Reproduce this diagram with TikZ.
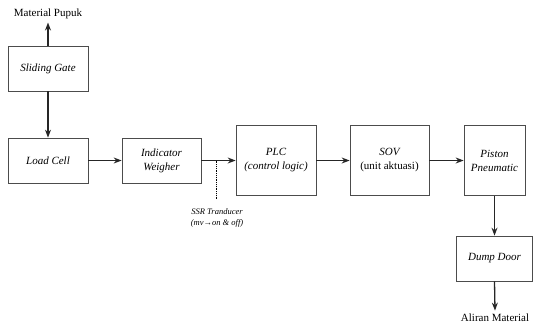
\documentclass[tikz,border=0pt]{standalone}
\usepackage{fontspec}
\setmainfont{Liberation Serif}
\usetikzlibrary{arrows.meta}

\begin{document}
\begin{tikzpicture}[x=1pt, y=-1pt,
    blok/.style={draw=black!70, line width=0.7pt, inner sep=2pt, align=center,
                 font=\fontsize{11}{14}\selectfont\itshape},
    alur/.style={-{Stealth[length=8pt, width=6pt]}, line width=1.3pt, black!85},
    ket/.style={font=\fontsize{11}{13}\selectfont}]

    \useasboundingbox (0,0) rectangle (533,327);

    \node (mat)  at ( 48, 14) [ket] {Material Pupuk};
    \node (gate) at ( 48, 68.5) [blok, minimum width=80pt, minimum height=45pt] {Sliding Gate};
    \node (cell) at ( 48, 160.5) [blok, minimum width=80pt, minimum height=45pt] {Load Cell};
    \node (wgh)  at ( 161.5, 160.5) [blok, minimum width=79pt, minimum height=45pt] {Indicator\\Weigher};
    \node (plc)  at ( 276, 160.5) [blok, minimum width=80pt, minimum height=70pt] {PLC\\(control logic)};
    \node (sov)  at ( 389.5, 160.5) [blok, minimum width=79pt, minimum height=70pt] {SOV\\\upshape(unit aktuasi)};
    \node (pis)  at ( 494.5, 160.5) [blok, minimum width=61pt, minimum height=70pt] {Piston\\Pneumatic};
    \node (dump) at ( 494.5, 258.5) [blok, minimum width=76pt, minimum height=45pt] {Dump Door};
    \node (alir) at ( 495, 318) [ket] {Aliran Material};

    \draw[alur] (gate.north) -- (mat.south);
    \draw[alur] (gate.south) -- (cell.north);
    \draw[alur] (cell) -- (wgh);
    \draw[alur] (wgh) -- (plc);
    \draw[alur] (plc) -- (sov);
    \draw[alur] (sov) -- (pis);
    \draw[alur] (pis.south) -- (dump.north);
    \draw[alur] (dump.south) -- (alir.north);

    % sinyal SSR
    \coordinate (tap) at ( 216, 160.5);
    \coordinate (tapend) at ( 216, 200);
    \draw[densely dotted, line width=0.8pt] (tap) -- (tapend);
    \node (ssr) at ( 217, 218) [align=center, font=\fontsize{8.5}{10.5}\selectfont\itshape] {SSR Tranducer\\(mv→on \& off)};

\end{tikzpicture}
\end{document}
